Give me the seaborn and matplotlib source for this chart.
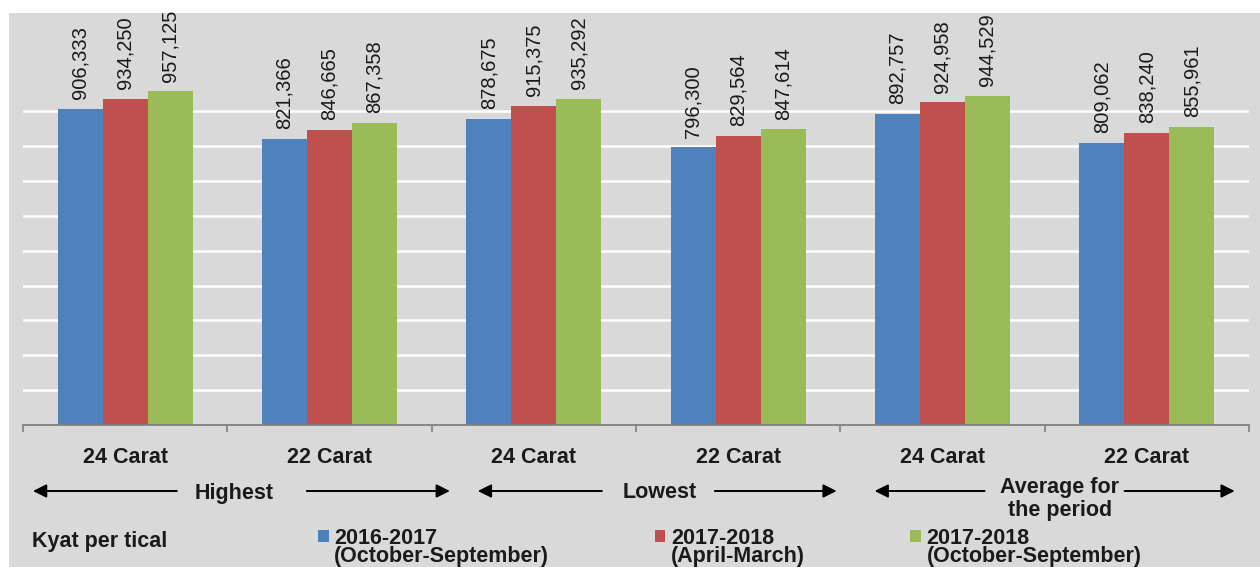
import matplotlib
matplotlib.use("Agg")
import matplotlib.pyplot as plt
from matplotlib.patches import Rectangle, Patch
import seaborn as sns
import pandas as pd

# Data
periods = ["Highest", "Highest", "Lowest", "Lowest", "Average", "Average"]
carats = ["24 Carat", "22 Carat", "24 Carat", "22 Carat", "24 Carat", "22 Carat"]
series_names = ["2016-2017", "2017-2018", "2017-2018 "]
series_sub = ["(October-September)", "(April-March)", "(October-September)"]
vals_2016_17 = [906333, 821366, 878675, 796300, 892757, 809062]
vals_2017_18_am = [934250, 846665, 915375, 829564, 924958, 838240]
vals_2017_18_os = [957125, 867358, 935292, 847614, 944529, 855961]
colors = ["#4f81bd", "#c0504d", "#9bbb59"]

keys = [f"{p} {c}" for p, c in zip(periods, carats)]
df = pd.concat(
    [
        pd.DataFrame({"key": keys, "series": name, "value": vals})
        for name, vals in zip(series_names, [vals_2016_17, vals_2017_18_am, vals_2017_18_os])
    ],
    ignore_index=True,
)

BG = "#d9d9d9"
W, H = 1260, 567

plt.rcParams["font.family"] = ["Liberation Sans", "DejaVu Sans"]

fig = plt.figure(figsize=(W / 100, H / 100), dpi=100, facecolor="white")
# grey chart area (image has a thin white margin on the top and left)
fig.patches.append(
    Rectangle((9 / W, 0), 1, (H - 13) / H, transform=fig.transFigure,
              facecolor=BG, edgecolor="none", zorder=-10)
)
ax = fig.add_axes([23 / W, (H - 425) / H, (1249 - 23) / W, 412 / H])
ax.set_facecolor(BG)

sns.barplot(data=df, x="key", y="value", hue="series", order=keys,
            hue_order=series_names, palette=colors, saturation=1,
            width=0.66, linewidth=0, ax=ax)

for cont in ax.containers:
    ax.bar_label(cont, labels=[f"{v:,.0f}" for v in cont.datavalues],
                 rotation=90, padding=7, fontsize=14.5, color="#1a1a1a")

ax.set_xlim(-0.5, 5.5)
ax.set_ylim(0, 1181500)
ax.set_yticks(range(100000, 1000000, 100000))
ax.yaxis.grid(True, color="white", lw=1.8)
ax.xaxis.grid(False)
ax.set_axisbelow(True)
ax.tick_params(axis="y", length=0, labelleft=False)
for s in ["left", "top", "right"]:
    ax.spines[s].set_visible(False)
ax.spines["bottom"].set_color("#7f7f7f")
ax.spines["bottom"].set_linewidth(1.3)

ax.set_xticks(range(len(keys)))
ax.set_xticklabels(carats, fontsize=15.5, fontweight="bold", color="#1a1a1a")
ax.tick_params(axis="x", which="major", length=0, pad=16)
ax.set_xticks([i - 0.5 for i in range(len(keys) + 1)], minor=True)
ax.tick_params(axis="x", which="minor", length=5, color="#7f7f7f", width=1.2)
ax.set_xlabel("")
ax.set_ylabel("")

# period arrows underneath the categories
trans = matplotlib.transforms.blended_transform_factory(ax.transData, fig.transFigure)
arrow_y = 1 - 491 / H
period_marks = [
    ("Highest", 0.532, (0.253, -0.451), (0.889, 1.589)),
    ("Lowest", 2.616, (2.333, 1.726), (2.886, 3.482)),
    ("Average for\nthe period", 4.573, (4.206, 3.668), (4.891, 5.43)),
]
for label, xc, left, right in period_marks:
    ty = 1 - 499 / H if "\n" in label else 1 - 493 / H
    ax.text(xc, ty, label, transform=trans, ha="center", va="center",
            fontsize=15.5, fontweight="bold", color="#1a1a1a", linespacing=1.15)
    for x0, x1 in (left, right):
        ax.annotate("", xy=(x1, arrow_y), xytext=(x0, arrow_y),
                    xycoords=trans, textcoords=trans,
                    arrowprops=dict(arrowstyle="-|>", color="black", lw=1.4,
                                    mutation_scale=20, shrinkA=0, shrinkB=0))

fig.text(32 / W, 1 - 542 / H, "Kyat per tical", ha="left", va="center",
         fontsize=15.5, fontweight="bold", color="#1a1a1a")

# legend: first line with a swatch, second line underneath
handles, _ = ax.get_legend_handles_labels()
ax.get_legend().remove()
leg_handles, leg_labels = [], []
for h, name, sub in zip(handles, series_names, series_sub):
    leg_handles += [h, Patch(facecolor="none", edgecolor="none")]
    leg_labels += [name.strip(), sub]
leg = fig.legend(leg_handles, leg_labels, ncol=3, loc="upper left",
                 bbox_to_anchor=(318 / W, 1 - 527.5 / H), frameon=False,
                 prop={"size": 15.5, "weight": "bold"}, handlelength=0.5,
                 handleheight=0.5, handletextpad=0.25, columnspacing=4.9,
                 labelspacing=-0.1, borderpad=0, borderaxespad=0)
for t in leg.get_texts():
    t.set_color("#1a1a1a")

fig.savefig("out.png", dpi=100, facecolor=fig.get_facecolor())
